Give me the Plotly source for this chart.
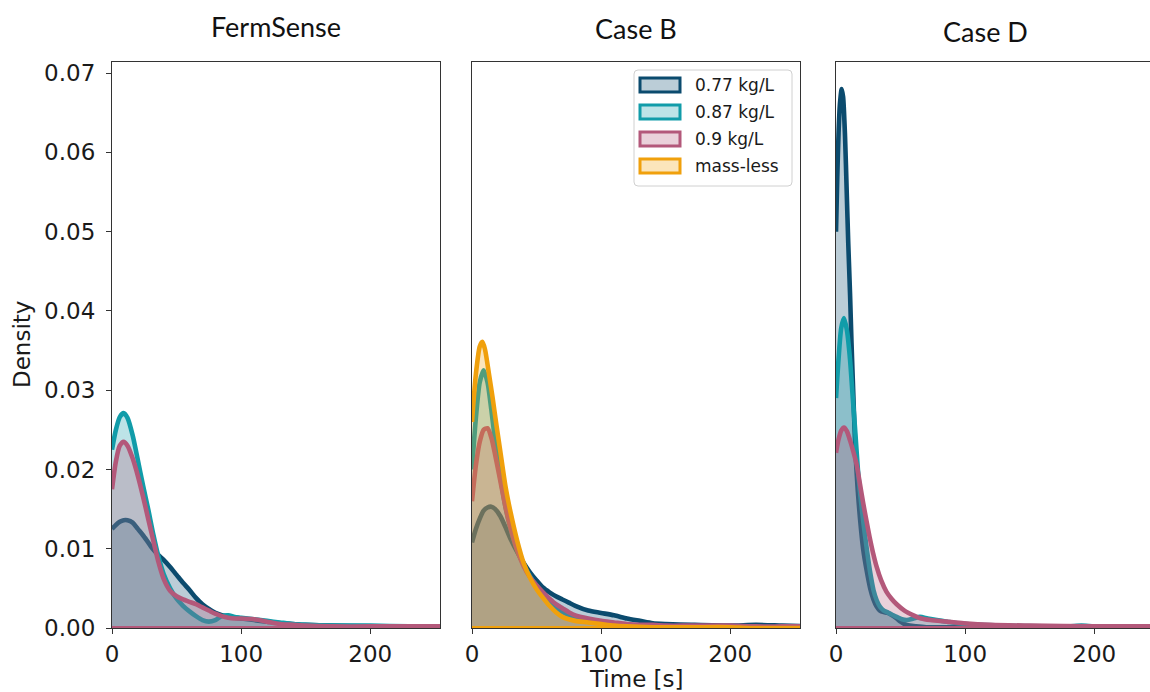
import plotly.graph_objects as go

W, H = 1150, 692

# ---------------- data (time [s] vs. kernel density) ----------------
series_names = ["0.77 kg/L", "0.87 kg/L", "0.9 kg/L", "mass-less"]
series_colors = ["#0b4b6e", "#119ca9", "#b3587a", "#f0a00c"]
panel_titles = ["FermSense", "Case B", "Case D"]
x_ticks = [0, 100, 200]
y_ticks = [0.00, 0.01, 0.02, 0.03, 0.04, 0.05, 0.06, 0.07]

# FermSense
ferm_t = [0, 3, 6, 9, 12, 16, 20, 24, 28, 32, 36, 40, 45, 50, 55, 60, 65, 70, 75, 80,
          85, 90, 95, 100, 110, 120, 130, 140, 150, 170, 200, 230, 260]
ferm_077 = [0.0125, 0.0130, 0.0134, 0.0136, 0.0136, 0.0133, 0.0125, 0.0117, 0.0108, 0.0099,
            0.0092, 0.0086, 0.0077, 0.0067, 0.0057, 0.0048, 0.0038, 0.0030, 0.0024, 0.0019,
            0.0016, 0.0014, 0.0013, 0.0012, 0.0010, 0.0008, 0.0006, 0.0005, 0.0004, 0.0003,
            0.0002, 0.0002, 0.0002]
ferm_087 = [0.0225, 0.0250, 0.0266, 0.0271, 0.0265, 0.0243, 0.0212, 0.0180, 0.0150, 0.0118,
            0.0090, 0.0068, 0.0050, 0.0037, 0.0028, 0.0021, 0.0015, 0.0010, 0.0008, 0.0010,
            0.0015, 0.0016, 0.0014, 0.0013, 0.0011, 0.0009, 0.0007, 0.0005, 0.0004, 0.0003,
            0.0003, 0.0002, 0.0002]
ferm_090 = [0.0175, 0.0210, 0.0230, 0.0235, 0.0230, 0.0214, 0.0192, 0.0166, 0.0138, 0.0110,
            0.0083, 0.0062, 0.0047, 0.0040, 0.0036, 0.0033, 0.0030, 0.0026, 0.0022, 0.0018,
            0.0015, 0.0013, 0.0012, 0.0012, 0.0011, 0.0008, 0.0005, 0.0004, 0.0003, 0.0002,
            0.0002, 0.0002, 0.0002]

# Case B
caseb_t = [0, 3, 6, 9, 12, 15, 18, 22, 26, 30, 35, 40, 45, 50, 55, 60, 65, 70, 75, 80,
           90, 100, 110, 120, 130, 140, 150, 170, 200, 220, 240, 260]
caseb_077 = [0.0108, 0.0125, 0.0138, 0.0148, 0.0152, 0.0153, 0.0150, 0.0141, 0.0127, 0.0112,
             0.0096, 0.0082, 0.0070, 0.0060, 0.0051, 0.0045, 0.0040, 0.0036, 0.0032, 0.0028,
             0.0022, 0.0019, 0.0016, 0.0012, 0.0009, 0.0006, 0.0005, 0.0004, 0.0003, 0.0004,
             0.0003, 0.0002]
caseb_087 = [0.0200, 0.0265, 0.0310, 0.0325, 0.0310, 0.0275, 0.0235, 0.0190, 0.0152, 0.0124,
             0.0098, 0.0080, 0.0065, 0.0053, 0.0043, 0.0034, 0.0026, 0.0020, 0.0016, 0.0013,
             0.0009, 0.0007, 0.0005, 0.0004, 0.0003, 0.0003, 0.0002, 0.0002, 0.0001, 0.0001,
             0.0001, 0.0001]
caseb_090 = [0.0160, 0.0205, 0.0235, 0.0250, 0.0252, 0.0240, 0.0218, 0.0185, 0.0152, 0.0125,
             0.0098, 0.0078, 0.0064, 0.0054, 0.0045, 0.0037, 0.0030, 0.0025, 0.0020, 0.0016,
             0.0012, 0.0009, 0.0007, 0.0005, 0.0004, 0.0004, 0.0003, 0.0003, 0.0003, 0.0002,
             0.0002, 0.0002]
caseb_massless_t = [0, 3, 6, 8, 10, 13, 16, 19, 22, 26, 30, 35, 40, 45, 50, 55, 60, 65, 70,
                    75, 80, 90, 100, 110, 120, 140, 170, 200, 215, 260]
caseb_massless = [0.0260, 0.0320, 0.0355, 0.0361, 0.0352, 0.0322, 0.0290, 0.0255, 0.0222,
                  0.0178, 0.0145, 0.0110, 0.0082, 0.0063, 0.0049, 0.0038, 0.0028, 0.0020,
                  0.0014, 0.0011, 0.0009, 0.0007, 0.0005, 0.0003, 0.0002, 0.0001, 0.0001,
                  0.0001, 0.0000, 0.0000]

# Case D
cased_077_t = [0, 1, 2, 3, 4.4, 5.5, 7, 8.3, 9.5, 10.9, 12, 13.4, 15, 16.8, 18.6, 21, 23.8,
               26.5, 29, 31.5, 34, 37, 40, 43.5, 47, 50, 53, 57, 62, 70, 90, 120, 160, 200, 260]
cased_077 = [0.0500, 0.0570, 0.0625, 0.0660, 0.0680, 0.0670, 0.0620, 0.0550, 0.0485, 0.0420,
             0.0360, 0.0295, 0.0225, 0.0175, 0.0138, 0.0100, 0.0072, 0.0050, 0.0036, 0.0027,
             0.0022, 0.0020, 0.0019, 0.0016, 0.0012, 0.0008, 0.0005, 0.0003, 0.0002, 0.0001,
             0.0001, 0.0001, 0.0000, 0.0000, 0.0000]
cased_087_t = [0, 2, 4, 6.2, 8.5, 10.9, 13, 14.7, 17, 19, 21, 23, 25, 27, 29, 31.5, 34, 37,
               39.5, 43, 47, 51, 55, 60, 65, 71, 78, 86, 94, 112, 130, 160, 180, 190, 200,
               230, 260]
cased_087 = [0.0290, 0.0340, 0.0378, 0.0391, 0.0375, 0.0338, 0.0290, 0.0253, 0.0199, 0.0165,
             0.0136, 0.0110, 0.0086, 0.0065, 0.0048, 0.0035, 0.0027, 0.0022, 0.0020, 0.0017,
             0.0014, 0.0011, 0.0010, 0.0012, 0.0014, 0.0012, 0.0010, 0.0008, 0.0006, 0.0004,
             0.0003, 0.0002, 0.0002, 0.0003, 0.0002, 0.0001, 0.0001]
cased_090_t = [0, 2, 4, 6.2, 8.5, 11, 13.5, 16, 18.5, 21, 23.5, 26, 28.8, 31.5, 35, 39, 43,
               47, 53, 60, 66, 73, 86, 99, 120, 150, 200, 260]
cased_090 = [0.0221, 0.0238, 0.0249, 0.0253, 0.0248, 0.0236, 0.0222, 0.0206, 0.0182, 0.0158,
             0.0136, 0.0115, 0.0094, 0.0077, 0.0060, 0.0046, 0.0037, 0.0030, 0.0022, 0.0016,
             0.0012, 0.0010, 0.0008, 0.0006, 0.0004, 0.0003, 0.0002, 0.0002]

panels = [
    [(ferm_t, ferm_077, 0), (ferm_t, ferm_087, 1), (ferm_t, ferm_090, 2)],
    [(caseb_t, caseb_077, 0), (caseb_t, caseb_087, 1), (caseb_t, caseb_090, 2),
     (caseb_massless_t, caseb_massless, 3)],
    [(cased_077_t, cased_077, 0), (cased_087_t, cased_087, 1), (cased_090_t, cased_090, 2)],
]

# ---------------- layout geometry (pixels) ----------------
x_domains_px = [(112, 440), (472, 800), (836, W)]
y_domain_px = (62, 628)
px_per_sec = 328 / 254.0
y_max = 0.0714
fill_alpha = 0.28


def rgba(hex_color, a):
    h = hex_color.lstrip("#")
    r, g, b = int(h[0:2], 16), int(h[2:4], 16), int(h[4:6], 16)
    return f"rgba({r},{g},{b},{a})"


def fx(p):
    return p / W


def fy(p):
    return 1 - p / H


fig = go.Figure()

for i, series in enumerate(panels):
    xa = "x" if i == 0 else f"x{i + 1}"
    ya = "y" if i == 0 else f"y{i + 1}"
    for t, d, k in series:
        fig.add_trace(go.Scatter(
            x=t, y=d, xaxis=xa, yaxis=ya, mode="lines",
            line=dict(color=series_colors[k], width=4.6, shape="spline", smoothing=0.7),
            fill="tozeroy", fillcolor=rgba(series_colors[k], fill_alpha),
            showlegend=False, hoverinfo="skip",
        ))
    # lower edge of the last filled area, along the baseline
    t_last, _, k_last = series[-1]
    fig.add_trace(go.Scatter(
        x=[t_last[0], t_last[-1]], y=[0, 0], xaxis=xa, yaxis=ya, mode="lines",
        line=dict(color=series_colors[k_last], width=4),
        showlegend=False, hoverinfo="skip",
    ))

axis_line = dict(showline=True, linecolor="#333333", linewidth=1.2, showgrid=False,
                 zeroline=False, automargin=False)
tick_font = dict(family="DejaVu Sans", size=23, color="#1a1a1a")

layout = dict(
    template="none",
    width=W, height=H, autosize=False,
    margin=dict(l=0, r=0, t=0, b=0, pad=0),
    paper_bgcolor="white", plot_bgcolor="white",
    showlegend=False,
)

for i, (x0, x1) in enumerate(x_domains_px):
    xkey = "xaxis" if i == 0 else f"xaxis{i + 1}"
    ykey = "yaxis" if i == 0 else f"yaxis{i + 1}"
    xa = "x" if i == 0 else f"x{i + 1}"
    ya = "y" if i == 0 else f"y{i + 1}"
    x_span = (x1 - x0) / px_per_sec
    layout[xkey] = dict(
        domain=[fx(x0), fx(x1)], range=[0, x_span], anchor=ya,
        tickmode="array", tickvals=x_ticks, ticktext=[str(v) for v in x_ticks],
        ticks="outside", ticklen=5, tickwidth=1.2, tickcolor="#333333",
        tickfont=tick_font, mirror=True, **axis_line,
    )
    ydict = dict(
        domain=[fy(y_domain_px[1]), fy(y_domain_px[0])], range=[0, y_max], anchor=xa,
        **axis_line,
    )
    if i == 0:
        ydict.update(tickmode="array", tickvals=y_ticks,
                     ticktext=[f"{v:.2f}" for v in y_ticks],
                     ticks="outside", ticklen=5, tickwidth=1.2, tickcolor="#333333",
                     tickfont=tick_font, mirror=True, ticklabelstandoff=6)
    else:
        ydict.update(showticklabels=False, ticks="", matches="y",
                     mirror=(i < 2))
    layout[ykey] = ydict

fig.update_layout(**layout)

# ---------------- titles and axis labels ----------------
title_pos = [(276, 26), (636, 28), (985, 31)]
annotations = []
for title, (tx, ty) in zip(panel_titles, title_pos):
    annotations.append(dict(
        text=title, x=fx(tx), y=fy(ty), xref="paper", yref="paper",
        xanchor="center", yanchor="middle", showarrow=False,
        font=dict(family="Lato", size=27, color="#111111"),
    ))
annotations.append(dict(
    text="Density", x=fx(22), y=fy(345), xref="paper", yref="paper",
    xanchor="center", yanchor="middle", showarrow=False, textangle=-90,
    font=dict(family="DejaVu Sans", size=23, color="#1a1a1a"),
))
annotations.append(dict(
    text="Time [s]", x=fx(636), y=fy(679), xref="paper", yref="paper",
    xanchor="center", yanchor="middle", showarrow=False,
    font=dict(family="DejaVu Sans", size=23, color="#1a1a1a"),
))

# ---------------- legend (drawn in the Case B panel) ----------------
shapes = []
lx0, ly0, lx1, ly1, rad = 634, 70, 792, 186, 4
shapes.append(dict(
    type="path", xref="paper", yref="paper",
    path=(f"M {fx(lx0 + rad)},{fy(ly0)} L {fx(lx1 - rad)},{fy(ly0)} "
          f"Q {fx(lx1)},{fy(ly0)} {fx(lx1)},{fy(ly0 + rad)} "
          f"L {fx(lx1)},{fy(ly1 - rad)} Q {fx(lx1)},{fy(ly1)} {fx(lx1 - rad)},{fy(ly1)} "
          f"L {fx(lx0 + rad)},{fy(ly1)} Q {fx(lx0)},{fy(ly1)} {fx(lx0)},{fy(ly1 - rad)} "
          f"L {fx(lx0)},{fy(ly0 + rad)} Q {fx(lx0)},{fy(ly0)} {fx(lx0 + rad)},{fy(ly0)} Z"),
    line=dict(color="#d0d0d0", width=1), fillcolor="rgba(255,255,255,0.85)",
    layer="above",
))
row_y = [85, 112, 139, 166]
for name, color, ry in zip(series_names, series_colors, row_y):
    shapes.append(dict(
        type="rect", xref="paper", yref="paper",
        x0=fx(640), x1=fx(680), y0=fy(ry + 7), y1=fy(ry - 7),
        line=dict(color=color, width=3), fillcolor=rgba(color, 0.28), layer="above",
    ))
    annotations.append(dict(
        text=name, x=fx(693), y=fy(ry), xref="paper", yref="paper",
        xanchor="left", yanchor="middle", showarrow=False,
        font=dict(family="DejaVu Sans", size=17, color="#1a1a1a"),
    ))

fig.update_layout(annotations=annotations, shapes=shapes)

fig.write_html("out.html", config={"displayModeBar": False})
